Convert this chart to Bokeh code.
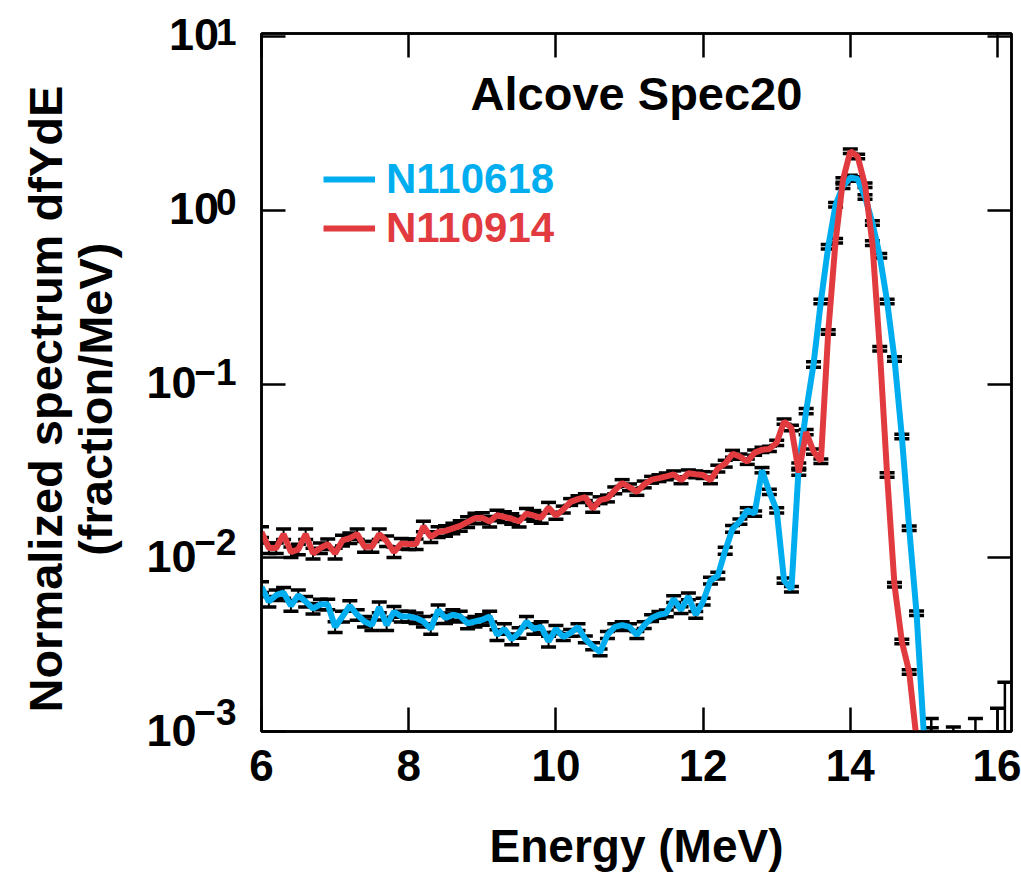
import math
import numpy as np
from bokeh.plotting import figure
from bokeh.models import (ColumnDataSource, Whisker, TeeHead, FixedTicker, LinearAxis, LogAxis,
                          Label, Legend, LegendItem, CustomJSTickFormatter, Range1d)
from bokeh.embed import file_html
from bokeh.resources import INLINE

# ---------------- data ----------------
bin_start = 6.0
bin_width = 0.1

# N110618 (blue) normalized spectrum, bins from 6.0 MeV in 0.1 MeV steps
blue_values = [
    0.0068, 0.0056, 0.0061, 0.0063, 0.0053, 0.0061, 0.0056, 0.0051, 0.0054, 0.0054,
    0.0040, 0.0046, 0.0053, 0.0047, 0.0043, 0.0041, 0.0052, 0.0041, 0.0049, 0.0046,
    0.0046, 0.0045, 0.0043, 0.0039, 0.0050, 0.0045, 0.0047, 0.0046, 0.0042, 0.0043,
    0.0044, 0.0046, 0.0036, 0.0039, 0.0034, 0.0037, 0.0043, 0.0039, 0.0040, 0.0033,
    0.0039, 0.0035, 0.0037, 0.0040, 0.0034, 0.0031, 0.00286, 0.0036, 0.0040, 0.0041,
    0.0040, 0.0036, 0.0041, 0.0045, 0.0047, 0.0048, 0.0058, 0.0050, 0.0060, 0.0047,
    0.0056, 0.0074, 0.0079, 0.0110, 0.0147, 0.0162, 0.0188, 0.0180, 0.0320, 0.0240,
    0.0188, 0.0074, 0.0066, 0.0340, 0.0700, 0.130, 0.300, 0.620, 1.08, 1.38,
    1.55, 1.52, 1.20, 0.85, 0.55, 0.30, 0.14, 0.050, 0.0148, 0.0048,
    0.00095,
]

# N110914 (red) normalized spectrum, bins from 6.0 MeV in 0.1 MeV steps
red_values = [
    0.0141, 0.0114, 0.0114, 0.0137, 0.0108, 0.0112, 0.0137, 0.0106, 0.0114, 0.0120,
    0.0106, 0.0126, 0.0130, 0.0137, 0.0116, 0.0116, 0.0137, 0.0125, 0.0108, 0.0121,
    0.0120, 0.0120, 0.0152, 0.0132, 0.0141, 0.0143, 0.0148, 0.0153, 0.0161, 0.0169,
    0.0170, 0.0162, 0.0176, 0.0172, 0.0168, 0.0162, 0.0180, 0.0175, 0.0170, 0.0195,
    0.0175, 0.0190, 0.0210, 0.0218, 0.0224, 0.0192, 0.0215, 0.0220, 0.0245, 0.0270,
    0.0255, 0.0240, 0.0265, 0.0282, 0.0288, 0.0295, 0.0303, 0.0280, 0.0307, 0.0303,
    0.0300, 0.0280, 0.0327, 0.0349, 0.0398, 0.0383, 0.0358, 0.0404, 0.0419, 0.0424,
    0.0460, 0.0610, 0.0560, 0.0310, 0.0530, 0.0410, 0.0360, 0.200, 0.67, 1.50,
    2.20, 2.05, 1.40, 0.65, 0.16, 0.030, 0.0070, 0.0033, 0.0022, 0.0009,
]

# relative error bands (lower edge of band in MeV, relative 1-sigma error)
err_band_edges = [6.0, 10.0, 12.5, 13.6]
err_band_rel = [0.07, 0.045, 0.035, 0.03]

# error bars of near-zero bins above the peak (only the upper part is visible)
tail_energy = [15.1, 15.1, 15.4, 15.7, 16.0, 16.1]
tail_upper = [0.00119, 0.00105, 0.00106, 0.00119, 0.00136, 0.00192]

x_ticks = [6, 8, 10, 12, 14, 16]
y_exponents = [1, 0, -1, -2, -3]

series_names = ["N110618", "N110914"]
BLUE = "#00AEEF"
RED = "#E23B3F"
FONT = "Liberation Sans"

X_MIN, X_MAX = 6.0, 16.19
Y_MIN, Y_MAX = 1e-3, 10 ** 1.02


def energies(vals):
    return [round(bin_start + bin_width * i, 2) for i in range(len(vals))]


def rel_err(e):
    r = err_band_rel[0]
    for edge, rel in zip(err_band_edges, err_band_rel):
        if e >= edge:
            r = rel
    return r


def make_sources(vals):
    e = energies(vals)
    line_src = ColumnDataSource(dict(e=e, v=vals))
    eb_e, eb_up, eb_lo = [], [], []
    for ei, vi in zip(e, vals):
        if vi < Y_MIN:
            continue
        r = rel_err(ei)
        eb_e.append(ei)
        eb_up.append(vi * (1 + r))
        eb_lo.append(max(vi * (1 - r), Y_MIN))
    err_src = ColumnDataSource(dict(e=eb_e, up=eb_up, lo=eb_lo))
    return line_src, err_src


p = figure(width=1021, height=872,
           x_range=Range1d(X_MIN, X_MAX), y_range=Range1d(Y_MIN, Y_MAX),
           y_axis_type="log", output_backend="svg", toolbar_location=None,
           min_border_left=261, min_border_right=10, min_border_top=33, min_border_bottom=141)
p.xgrid.visible = False
p.ygrid.visible = False
p.outline_line_color = "black"
p.outline_line_width = 2.5
p.background_fill_color = "white"
p.border_fill_color = "white"

empty_fmt = CustomJSTickFormatter(code="return ''")


def style_axis(ax):
    ax.major_tick_in = 24
    ax.major_tick_out = 0
    ax.minor_tick_line_color = None
    ax.major_tick_line_width = 2.5
    ax.major_tick_line_color = "black"
    ax.axis_line_width = 2.5
    ax.axis_line_color = "black"


xb = p.xaxis[0]
xb.ticker = FixedTicker(ticks=x_ticks)
style_axis(xb)
xb.major_label_text_font = FONT
xb.major_label_text_font_style = "bold"
xb.major_label_text_font_size = "44px"
xb.major_label_text_color = "black"
xb.major_label_standoff = 18

y_tick_values = [10.0 ** k for k in y_exponents]
yl = p.yaxis[0]
yl.ticker = FixedTicker(ticks=y_tick_values)
yl.formatter = empty_fmt
yl.major_label_standoff = 0
style_axis(yl)

top_axis = LinearAxis(ticker=FixedTicker(ticks=x_ticks), formatter=empty_fmt, major_label_standoff=0)
style_axis(top_axis)
p.add_layout(top_axis, "above")

right_axis = LogAxis(ticker=FixedTicker(ticks=y_tick_values), formatter=empty_fmt,
                     major_label_standoff=0)
style_axis(right_axis)
p.add_layout(right_axis, "right")

# ---------------- series ----------------
cap_style = dict(size=15, line_width=3.5, line_color="black")
renderers = []
for vals, color in [(blue_values, BLUE), (red_values, RED)]:
    line_src, err_src = make_sources(vals)
    w = Whisker(base="e", upper="up", lower="lo", source=err_src,
                line_color="black", line_width=2,
                upper_head=TeeHead(**cap_style), lower_head=TeeHead(**cap_style),
                level="underlay")
    p.add_layout(w)
    r = p.line(x="e", y="v", source=line_src, line_color=color, line_width=6)
    renderers.append(r)

tail_src = ColumnDataSource(dict(e=tail_energy, up=tail_upper, lo=[Y_MIN] * len(tail_energy)))
p.add_layout(Whisker(base="e", upper="up", lower="lo", source=tail_src,
                     line_color="black", line_width=2.5,
                     upper_head=TeeHead(**cap_style), lower_head=None, level="underlay"))

# ---------------- legend ----------------
for name, rend, color, loc in [(series_names[0], renderers[0], BLUE, (62, 528)),
                               (series_names[1], renderers[1], RED, (62, 479))]:
    leg = Legend(items=[LegendItem(label=name, renderers=[rend])], location=loc,
                 glyph_width=52, glyph_height=20, label_standoff=11,
                 label_text_font=FONT, label_text_font_style="bold",
                 label_text_font_size="42px", label_text_color=color,
                 padding=0, margin=0, spacing=0,
                 border_line_color=None, background_fill_alpha=0)
    p.add_layout(leg)

# ---------------- texts ----------------
x_mid = (X_MIN + X_MAX) / 2
p.add_layout(Label(x=x_mid, y=Y_MAX, y_offset=-60, text="Alcove Spec20",
                   text_align="center", text_baseline="middle",
                   text_font=FONT, text_font_style="bold", text_font_size="47px",
                   text_color="black"))
p.add_layout(Label(x=x_mid, y=Y_MIN, y_offset=-114, text="Energy (MeV)",
                   text_align="center", text_baseline="middle",
                   text_font=FONT, text_font_style="bold", text_font_size="46px",
                   text_color="black"), "below")

METRIC = 1.13  # font line box height in em, used to space multi-line labels
y_label_center = 10 ** -1.086
p.add_layout(Label(x=X_MIN, y=y_label_center, x_offset=-191, angle=math.pi / 2,
                   text="Normalized spectrum dfYdE\n(fraction/MeV)",
                   text_align="center", text_baseline="middle",
                   text_line_height=50 / (METRIC * 47),
                   text_font=FONT, text_font_style="bold", text_font_size="47px",
                   text_color="black"), "left")

# y tick labels: "10" with a superscript exponent, one line per decade
BASE_PX = 45
EXP_PX = 37
DECADE_PX = 173.4
tens_text = "\n".join(("\u2002" + "10") if k >= 0 else "10" for k in y_exponents)
exp_text = "\n".join(str(k).replace("-", "\u2212") for k in y_exponents)
y_mid_tick = 10.0 ** ((max(y_exponents) + min(y_exponents)) / 2)
p.add_layout(Label(x=X_MIN, y=y_mid_tick, x_offset=-115, y_offset=2, text=tens_text,
                   text_align="left", text_baseline="middle",
                   text_line_height=DECADE_PX / (METRIC * BASE_PX),
                   text_font=FONT, text_font_style="bold", text_font_size=f"{BASE_PX}px",
                   text_color="black"), "left")
p.add_layout(Label(x=X_MIN, y=y_mid_tick, x_offset=-25, y_offset=12, text=exp_text,
                   text_align="right", text_baseline="middle",
                   text_line_height=DECADE_PX / (METRIC * EXP_PX),
                   text_font=FONT, text_font_style="bold", text_font_size=f"{EXP_PX}px",
                   text_color="black"), "left")

open("out.html", "w").write(file_html(p, INLINE))
